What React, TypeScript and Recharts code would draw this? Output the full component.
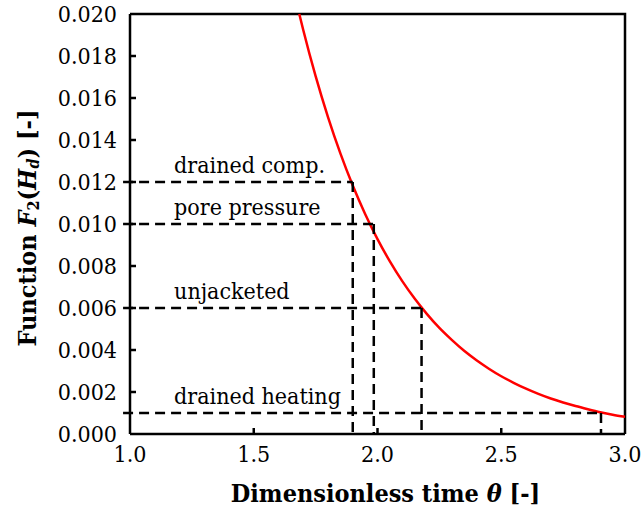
import React from 'react';
import { LineChart, Line, XAxis, YAxis, ReferenceLine, ReferenceDot } from 'recharts';

const FONT = "'DejaVu Serif Condensed', 'DejaVu Serif', serif";

// Red curve F2(Hd) vs dimensionless time theta
const thetaValues = [1.684, 1.70, 1.75, 1.80, 1.85, 1.90, 1.95, 2.00, 2.05, 2.10, 2.15, 2.20, 2.25, 2.30, 2.35, 2.40, 2.45, 2.50, 2.55, 2.60, 2.65, 2.70, 2.75, 2.80, 2.85, 2.90, 2.95, 3.00];
const f2Values = [0.0200, 0.01924, 0.01704, 0.01509, 0.01336, 0.01183, 0.01048, 0.00928, 0.00822, 0.00728, 0.00645, 0.00571, 0.00505, 0.00448, 0.00396, 0.00351, 0.00311, 0.00275, 0.00244, 0.00216, 0.00191, 0.00169, 0.00150, 0.00133, 0.00118, 0.00104, 0.00092, 0.00082];

const xTicks = [1.0, 1.5, 2.0, 2.5, 3.0];
const yTicks = [0, 0.002, 0.004, 0.006, 0.008, 0.010, 0.012, 0.014, 0.016, 0.018, 0.020];

// Dashed guide lines
const guideLabels = ['drained comp.', 'pore pressure', 'unjacketed', 'drained heating'];
const guideLevels = [0.012, 0.010, 0.006, 0.001];
const guideTimes = [1.90, 1.985, 2.178, 2.903];
const guideStart = 0.972;
const labelTime = 1.178;

// Axis extremes (plot frame)
const xMin = 1;
const xMax = 3;
const yMin = 0;
const yMax = 0.02;

const curveData = thetaValues.map((x, i) => ({ x, y: f2Values[i] }));
const frameData = [
  { x: xMin, y: yMax },
  { x: xMax, y: yMax },
  { x: xMax, y: yMin },
];

const TICK_FS = 23;
const TITLE_FS = 25;

const XTick = (props: any) => {
  const { x, y, payload } = props;
  const v = payload.value;
  const edge = v === xMin || v === xMax;
  return (
    <g>
      {!edge && <line x1={x} y1={y} x2={x} y2={y - 6} stroke="#000" strokeWidth={2.5} />}
      <text x={x} y={y + 12} dy="0.71em" textAnchor="middle" fontSize={TICK_FS} fontFamily={FONT} fill="#000">
        {Number(v).toFixed(1)}
      </text>
    </g>
  );
};

const YTick = (props: any) => {
  const { x, y, payload } = props;
  const v = payload.value;
  const edge = v === yMin || v === yMax;
  return (
    <g>
      {!edge && <line x1={x} y1={y} x2={x + 6} y2={y} stroke="#000" strokeWidth={2.5} />}
      <text x={x - 13} y={y} dy="0.355em" textAnchor="end" fontSize={TICK_FS} fontFamily={FONT} fill="#000">
        {Number(v).toFixed(3)}
      </text>
    </g>
  );
};

const YTitle = (props: any) => {
  const vb = props.viewBox || { x: 0, y: 0, width: 0, height: 0 };
  const cx = vb.x + 27;
  const cy = vb.y + vb.height / 2 + 4;
  return (
    <text
      x={cx}
      y={cy}
      transform={`rotate(-90 ${cx} ${cy})`}
      textAnchor="middle"
      dominantBaseline="central"
      fontSize={TITLE_FS}
      fontWeight="bold"
      fontFamily={FONT}
      fill="#000"
    >
      <tspan>Function </tspan>
      <tspan fontStyle="italic">F</tspan>
      <tspan fontSize={16} dy={6}>2</tspan>
      <tspan dy={-6}>(</tspan>
      <tspan fontStyle="italic">H</tspan>
      <tspan fontStyle="italic" fontSize={16} dy={6}>d</tspan>
      <tspan dy={-6}>) [-]</tspan>
    </text>
  );
};

const XTitle = (props: any) => {
  const vb = props.viewBox || { x: 0, y: 0, width: 0, height: 0 };
  const cx = vb.x + vb.width / 2 + 8;
  const cy = vb.y + 59;
  return (
    <text x={cx} y={cy} textAnchor="middle" dominantBaseline="central" fontSize={TITLE_FS} fontWeight="bold" fontFamily={FONT} fill="#000">
      <tspan>Dimensionless time </tspan>
      <tspan fontStyle="italic">θ</tspan>
      <tspan> [-]</tspan>
    </text>
  );
};

const GuideLabel = (text: string) => (props: any) => {
  const vb = props.viewBox || { x: 0, y: 0 };
  return (
    <text x={vb.x} y={vb.y - 9} textAnchor="start" fontSize={TICK_FS} fontFamily={FONT} fill="#000">
      {text}
    </text>
  );
};

const axisLine = { stroke: '#000', strokeWidth: 2.5 };
const dashed = { stroke: '#000', strokeWidth: 2.5, strokeDasharray: '10 6' };

export default function App() {
  return (
    <div style={{ position: 'absolute', left: 0, top: 0, width: 641, height: 515 }}>
      <LineChart width={641} height={515} margin={{ top: 14, right: 16, bottom: 0, left: 0 }}>
        <XAxis
          type="number"
          dataKey="x"
          domain={[xMin, xMax]}
          ticks={xTicks}
          interval={0}
          height={81}
          tickSize={0}
          tickMargin={0}
          tickLine={false}
          axisLine={axisLine}
          tick={<XTick />}
          label={{ content: (p: any) => <XTitle {...p} /> }}
        />
        <YAxis
          type="number"
          dataKey="y"
          domain={[yMin, yMax]}
          ticks={yTicks}
          interval={0}
          width={130}
          tickSize={0}
          tickMargin={0}
          tickLine={false}
          axisLine={axisLine}
          tick={<YTick />}
          label={{ content: (p: any) => <YTitle {...p} /> }}
        />
        <Line
          data={frameData}
          dataKey="y"
          type="linear"
          stroke="#000"
          strokeWidth={2.5}
          dot={false}
          activeDot={false}
          isAnimationActive={false}
        />
        <Line
          data={curveData}
          dataKey="y"
          type="monotone"
          stroke="#FF0000"
          strokeWidth={2.5}
          dot={false}
          activeDot={false}
          isAnimationActive={false}
        />
        {guideLevels.map((lvl, i) => (
          <ReferenceLine
            key={`h${i}`}
            segment={[{ x: guideStart, y: lvl }, { x: guideTimes[i], y: lvl }]}
            ifOverflow="visible"
            {...dashed}
          />
        ))}
        {guideLevels.map((lvl, i) => (
          <ReferenceLine
            key={`v${i}`}
            segment={[{ x: guideTimes[i], y: lvl }, { x: guideTimes[i], y: yMin }]}
            ifOverflow="visible"
            {...dashed}
          />
        ))}
        {guideLevels.map((lvl, i) => (
          <ReferenceDot
            key={`l${i}`}
            x={labelTime}
            y={lvl}
            r={0}
            fill="none"
            stroke="none"
            ifOverflow="visible"
            label={{ content: GuideLabel(guideLabels[i]) }}
          />
        ))}
      </LineChart>
    </div>
  );
}
